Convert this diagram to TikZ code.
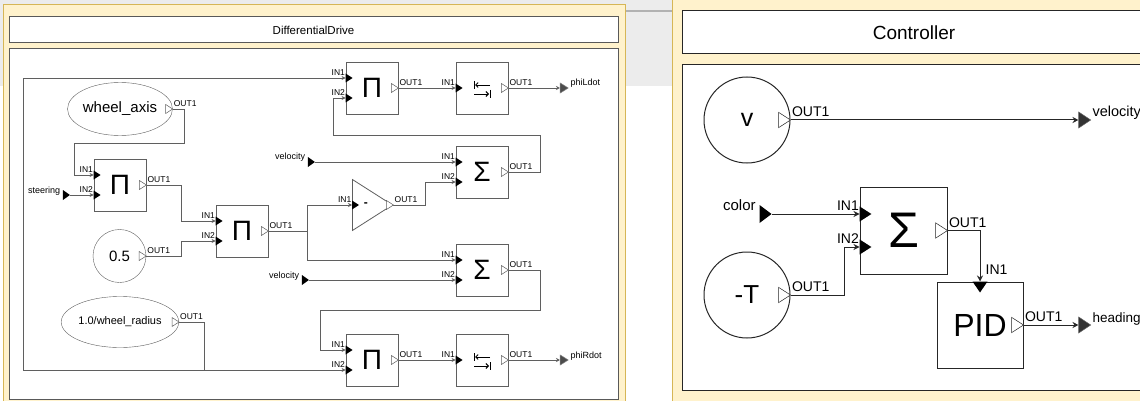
\documentclass[tikz,border=0pt]{standalone}
\usepackage{fontspec}
\setmainfont{Liberation Sans}
\usepackage{tikz}
\usetikzlibrary{arrows.meta, positioning, calc, shapes.geometric}
\definecolor{panelfill}{RGB}{255, 242, 204}
\definecolor{panelline}{RGB}{214, 182, 86}
\definecolor{wiregray}{RGB}{95, 95, 95}
\definecolor{screengray}{RGB}{236, 236, 236}

\begin{document}
\begin{tikzpicture}[x=1pt, y=-1pt,
    block/.style={draw=wiregray, fill=white, line width=0.8pt, inner sep=0,
                  minimum width=52, minimum height=52},
    bigblock/.style={draw=black!85, fill=white, line width=1pt, inner sep=0,
                  minimum width=87, minimum height=87},
    wire/.style={draw=wiregray, line width=0.8pt, -{Stealth[length=4pt, width=4pt]}},
    bigwire/.style={draw=black!85, line width=1pt, -{Stealth[length=6pt, width=6pt]}},
    portlbl/.style={inner sep=0.5pt, font=\fontsize{8.5}{9}\selectfont},
    portline/.style={draw=wiregray},
    termin/.style={isosceles triangle, isosceles triangle stretches, fill=black,
                  inner sep=0, minimum height=7, minimum width=10},
    termout/.style={isosceles triangle, isosceles triangle stretches, draw=gray,
                  fill=black!70, line width=0.5pt, inner sep=0,
                  minimum height=8, minimum width=10},
    pics/inmark/.style={code={
      \fill[black] (0,-4.5) -- (7,0) -- (0,4.5) -- cycle;
      \node[portlbl, anchor=south east] at (0,-1.5) {#1};
    }},
    pics/outmark/.style={code={
      \draw[portline, fill=white, line width=0.5pt] (-7,-4.5) -- (0,0) -- (-7,4.5) -- cycle;
      \node[portlbl, anchor=south west] at (0.5,-1.5) {#1};
    }},
    pics/satsym/.style={code={
      \draw[line width=0.9pt] (-8,-7) -- (-8,1);
      \draw[line width=0.9pt, -{Straight Barb[length=2.5pt]}] (8,-3) -- (-7,-3);
      \draw[line width=0.9pt, -{Straight Barb[length=2.5pt]}] (-8,6) -- (7,6);
      \draw[line width=0.9pt] (8,2) -- (8,10);
    }},
  ]
  \useasboundingbox (0,0) rectangle (1140,401);
  \fill[white] (0,0) rectangle (1140,401);
  \fill[screengray] (0,0) rectangle (672,86);
  \draw[gray!60, line width=2pt] (625,11) -- (672,11);

  % ---- DifferentialDrive ----
  \draw[panelline, fill=panelfill] (3,4) rectangle (625,410);
  \node[draw=gray!70!black, fill=white, line width=1pt, inner sep=0,
        minimum width=609, minimum height=26, font=\fontsize{11.5}{12}\selectfont]
    (ddtitle) at (313.5,30) {DifferentialDrive};
  \draw[gray!70!black, fill=white, line width=1pt] (9,49) rectangle (618,399);

  \node[ellipse, draw=wiregray, fill=white, inner sep=0, minimum width=104,
        minimum height=53, font=\fontsize{15}{16}\selectfont] (wax) at (120,109) {wheel\_axis};
  \node[circle, draw=wiregray, fill=white, inner sep=0, minimum size=53,
        font=\fontsize{15}{16}\selectfont] (c05) at (119.5,256) {0.5};
  \node[ellipse, draw=wiregray, fill=white, inner sep=0, minimum width=104,
        minimum height=51, font=\fontsize{11}{12}\selectfont] (rad) at (120,322) {1.0/wheel\_radius};

  \node[block, font=\fontsize{28}{28}\selectfont] (p1) at (120,185) {Π};
  \node[block, font=\fontsize{28}{28}\selectfont] (p2) at (242,231) {Π};
  \node[block, font=\fontsize{28}{28}\selectfont] (p3) at (372,88) {Π};
  \node[block, font=\fontsize{28}{28}\selectfont] (p4) at (372,360) {Π};
  \node[block, font=\fontsize{28}{28}\selectfont] (s1) at (482,172) {Σ};
  \node[block, font=\fontsize{28}{28}\selectfont] (s2) at (482,270) {Σ};
  \node[block] (sat1) at (482,88) {};
  \node[block] (sat2) at (482,360) {};
  \pic at (sat1) {satsym};
  \pic at (sat2) {satsym};
  \node[isosceles triangle, isosceles triangle stretches, draw=wiregray, fill=white,
        line width=0.8pt, inner sep=0, minimum height=40, minimum width=51,
        anchor=west, font=\fontsize{12}{12}\selectfont\bfseries] (gain) at (352,205) {-};

  \node[termin] (steer) at (65.5,195) {};
  \node[termin] (vel1) at (310.5,162) {};
  \node[termin] (vel2) at (304.5,280) {};
  \node[termout] (phil) at (563,88) {};
  \node[termout] (phir) at (563,360) {};
  \node[portlbl, anchor=base east, font=\fontsize{9}{9}\selectfont]
    at ([xshift=-2pt, yshift=1.5pt]steer.west) {steering};
  \node[portlbl, anchor=base east, font=\fontsize{9}{9}\selectfont]
    at ([xshift=-2pt, yshift=2pt]vel1.west) {velocity};
  \node[portlbl, anchor=base east, font=\fontsize{9}{9}\selectfont]
    at ([xshift=-2pt, yshift=2pt]vel2.west) {velocity};
  \node[portlbl, anchor=base west, font=\fontsize{9}{9}\selectfont]
    at ([xshift=1pt, yshift=2pt]phil.east) {phiLdot};
  \node[portlbl, anchor=base west, font=\fontsize{9}{9}\selectfont]
    at ([xshift=1pt, yshift=2pt]phir.east) {phiRdot};

  \draw[wire] (wax.east) -- ++(12,0) -- ++(0,34) -- ++(-110,0) |- ([yshift=10pt]p1.west);
  \draw[wire] (steer.east) -- ([yshift=-10pt]p1.west);
  \draw[wire] (p1.east) -- ++(35,0) |- ([yshift=10pt]p2.west);
  \draw[wire] (c05.east) -- ++(35,0) |- ([yshift=-10pt]p2.west);
  \draw[wire] (p2.east) -- ++(39,0) |- (gain.west);
  \draw[wire] (p2.east) -- ++(39,0) |- ([yshift=10pt]s2.west);
  \draw[wire] (gain.east) -- ++(32,0) |- ([yshift=-10pt]s1.west);
  \draw[wire] (vel1.east) -- ([yshift=10pt]s1.west);
  \draw[wire] (vel2.east) -- ([yshift=-10pt]s2.west);
  \draw[wire] (s1.east) -- ++(32,0) -- ++(0,-37) -- ++(-207,0) |- ([yshift=-10pt]p3.west);
  \draw[wire] (s2.east) -- ++(32,0) -- ++(0,40) -- ++(-220,0) |- ([yshift=10pt]p4.west);
  \draw[wire] (rad.east) -- ++(25,0) |- ([yshift=-10pt]p4.west);
  \draw[wire] (rad.east) -- ++(25,0) -- ++(0,48) -- ++(-181,0) |- ([yshift=10pt]p3.west);
  \draw[wire] (p3.east) -- (sat1.west);
  \draw[wire] (sat1.east) -- (phil.west);
  \draw[wire] (p4.east) -- (sat2.west);
  \draw[wire] (sat2.east) -- (phir.west);

  \foreach \b in {p1,p2,p3,p4,s1,s2} {
    \pic at ([yshift=10pt]\b.west) {inmark=IN1};
    \pic at ([yshift=-10pt]\b.west) {inmark=IN2};
  }
  \foreach \b in {sat1,sat2,gain} {
    \pic at (\b.west) {inmark=IN1};
  }
  \foreach \b in {wax,c05,rad,p1,p2,p3,p4,s1,s2,sat1,sat2,gain} {
    \pic at (\b.east) {outmark=OUT1};
  }

  % ---- Controller ----
  \begin{scope}[portlbl/.style={inner sep=0.5pt, font=\fontsize{14}{15}\selectfont},
                portline/.style={draw=black!85}]
    \draw[panelline, fill=panelfill] (672,-5) rectangle (1150,410);
    \node[draw=black!85, fill=white, line width=1pt, inner sep=0, minimum width=464,
          minimum height=43, font=\fontsize{19}{20}\selectfont] (cttitle) at (914,32.5) {Controller};
    \draw[black!85, fill=white, line width=1pt] (682,65) rectangle (1150,390);

    \node[circle, draw=black!85, fill=white, line width=1pt, inner sep=0, minimum size=86,
          font=\fontsize{25}{25}\selectfont] (cv) at (747,120) {v};
    \node[circle, draw=black!85, fill=white, line width=1pt, inner sep=0, minimum size=86,
          font=\fontsize{26}{26}\selectfont] (cmt) at (747,295) {-T};
    \node[bigblock, font=\fontsize{50}{50}\selectfont] (sig) at (903.5,230.5) {Σ};
    \node[bigblock, minimum width=86, minimum height=86,
          font=\fontsize{32}{32}\selectfont] (pid) at (980,325) {PID};

    \node[termin, minimum height=12, minimum width=18] (color) at (764,214) {};
    \node[termout, minimum height=12, minimum width=16, draw=black!60, fill=black!80]
      (velo) at (1083,120) {};
    \node[termout, minimum height=12, minimum width=16, draw=black!60, fill=black!80]
      (head) at (1083,325) {};
    \node[portlbl, anchor=base east, font=\fontsize{15}{15}\selectfont]
      at ([xshift=-3pt, yshift=4pt]color.west) {color};
    \node[portlbl, anchor=base west, font=\fontsize{14.5}{15}\selectfont]
      at ([xshift=0.5pt, yshift=3pt]velo.east) {velocity};
    \node[portlbl, anchor=base west, font=\fontsize{13.5}{15}\selectfont]
      at ([xshift=0.5pt, yshift=3pt]head.east) {heading};

    \draw[bigwire] (cv.east) -- (velo.west);
    \draw[bigwire] (color.east) -- ([yshift=16.5pt]sig.west);
    \draw[bigwire] (cmt.east) -- ++(54,0) |- ([yshift=-16.5pt]sig.west);
    \draw[bigwire] (sig.east) -| (pid.north);
    \draw[bigwire] (pid.east) -- (head.west);

    \pic[scale=1.7] at ([yshift=16.5pt]sig.west) {inmark=IN1};
    \pic[scale=1.7] at ([yshift=-16.5pt]sig.west) {inmark=IN2};
    \foreach \b in {cv,cmt,sig,pid} {
      \pic[scale=1.7] at (\b.east) {outmark=OUT1};
    }
    \fill[black] ([xshift=-7.5pt]pid.north) -- ([xshift=7.5pt]pid.north)
      -- ([yshift=-11pt]pid.north) -- cycle;
    \node[portlbl, anchor=base west] at ([xshift=5pt, yshift=7pt]pid.north) {IN1};
  \end{scope}
\end{tikzpicture}
\end{document}
